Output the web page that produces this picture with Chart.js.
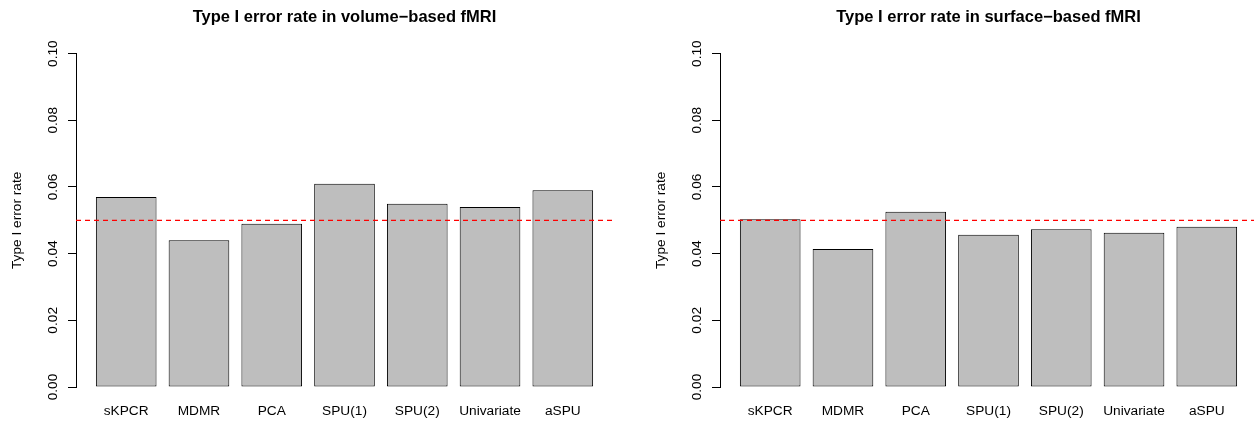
<!DOCTYPE html>
<html>
<head>
<meta charset="utf-8">
<title>Type I error rate</title>
<script src="https://cdn.jsdelivr.net/npm/chart.js@4.4.1/dist/chart.umd.min.js"></script>
<style>
    body { margin: 0; background: #fff; }
    .row { display: flex; width: 1254px; height: 425px; }
    .panel { width: 627px; height: 425px; overflow: hidden; position: relative; }
</style>
</head>
<body>
<div class="row">
    <div class="panel"><canvas id="volumeChart" width="627" height="425"></canvas></div>
    <div class="panel"><canvas id="surfaceChart" width="640" height="425"></canvas></div>
</div>
<script>
// Chart data
const categories = ['sKPCR', 'MDMR', 'PCA', 'SPU(1)', 'SPU(2)', 'Univariate', 'aSPU'];
const volumeRates = [0.057, 0.044, 0.049, 0.061, 0.055, 0.054, 0.059];
const surfaceRates = [0.0503, 0.0414, 0.0526, 0.0457, 0.0473, 0.0463, 0.0481];
const yTickValues = [0, 0.02, 0.04, 0.06, 0.08, 0.10];
const nominalLevel = 0.05;

const fontFamily = '"Liberation Sans", Arial, Helvetica, sans-serif';
const labelFont = { family: fontFamily, size: 13.7 };

// Draws the dashed red line at the nominal level
const nominalLinePlugin = {
    id: 'nominalLine',
    afterDatasetsDraw(chart) {
        const { ctx, chartArea, scales } = chart;
        const y = scales.y.getPixelForValue(nominalLevel);
        ctx.save();
        ctx.strokeStyle = '#ff0000';
        ctx.lineWidth = 1.3;
        ctx.setLineDash([5, 4]);
        ctx.beginPath();
        ctx.moveTo(chartArea.left, y);
        ctx.lineTo(chartArea.right, y);
        ctx.stroke();
        ctx.restore();
    }
};

function makeChart(canvasId, titleText, values, yAxisWidth, padRight) {
    const ctx = document.getElementById(canvasId).getContext('2d');
    return new Chart(ctx, {
        type: 'bar',
        data: {
            datasets: [{
                data: values.map((v, i) => ({ x: i, y: v })),
                backgroundColor: '#bebebe',
                borderColor: '#000000',
                borderWidth: 1,
                borderSkipped: false,
                categoryPercentage: 1,
                barPercentage: 1 / 1.2
            }]
        },
        options: {
            responsive: false,
            animation: false,
            layout: { padding: { left: 0, right: padRight, top: 0, bottom: 0 } },
            plugins: {
                legend: { display: false },
                tooltip: { enabled: false },
                title: {
                    display: true,
                    text: titleText,
                    color: '#000',
                    fullSize: false,
                    font: { family: fontFamily, size: 16.5, weight: 'bold' },
                    padding: { top: 7.4, bottom: 26.4 }
                }
            },
            scales: {
                x: {
                    type: 'linear',
                    min: -0.69,
                    max: 6.69,
                    offset: false,
                    grid: { display: false, drawTicks: false },
                    border: { display: false },
                    afterBuildTicks: (scale) => {
                        scale.ticks = categories.map((c, i) => ({ value: i }));
                    },
                    afterFit: (scale) => { scale.height = 38; },
                    ticks: {
                        autoSkip: false,
                        maxRotation: 0,
                        minRotation: 0,
                        padding: 16,
                        color: '#000',
                        font: labelFont,
                        callback: (value, index) => categories[index]
                    }
                },
                y: {
                    min: 0,
                    max: 0.1,
                    afterBuildTicks: (scale) => {
                        scale.ticks = yTickValues.map(v => ({ value: v }));
                    },
                    afterFit: (scale) => { scale.width = yAxisWidth; },
                    grid: {
                        drawOnChartArea: false,
                        drawTicks: true,
                        tickLength: 8,
                        color: '#000'
                    },
                    border: { display: true, color: '#000', width: 1 },
                    ticks: {
                        minRotation: 90,
                        maxRotation: 90,
                        crossAlign: 'center',
                        padding: 1.7,
                        color: '#000',
                        font: labelFont,
                        callback: (value) => value.toFixed(2)
                    },
                    title: {
                        display: true,
                        text: 'Type I error rate',
                        color: '#000',
                        font: labelFont,
                        padding: { top: yAxisWidth - 59 - 8.2, bottom: 0 }
                    }
                }
            }
        },
        plugins: [nominalLinePlugin]
    });
}

makeChart('volumeChart', 'Type I error rate in volume\u2212based fMRI', volumeRates, 76, 14);
makeChart('surfaceChart', 'Type I error rate in surface\u2212based fMRI', surfaceRates, 93, 10);
</script>
</body>
</html>
